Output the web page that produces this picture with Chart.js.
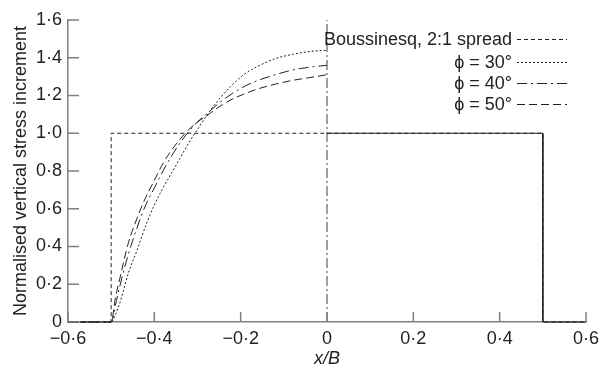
<!DOCTYPE html>
<html>
<head>
<meta charset="utf-8">
<script src="https://cdn.jsdelivr.net/npm/chart.js@4/dist/chart.umd.min.js"></script>
<style>
  html, body { margin: 0; padding: 0; background: #fff; }
  #wrap { width: 606px; height: 370px; }
</style>
</head>
<body>
<div id="wrap"><canvas id="chart"></canvas></div>
<script>
// data
const xTicks = [-0.6, -0.4, -0.2, 0, 0.2, 0.4, 0.6];
const yTicks = [0, 0.2, 0.4, 0.6, 0.8, 1.0, 1.2, 1.4, 1.6];

// Boussinesq, 2:1 spread (rectangle)
const bousX = [-0.6, -0.5, -0.5, 0.5, 0.5, 0.6];
const bousY = [0, 0, 1, 1, 0, 0];

// curved distributions, left half
const phiX  = [-0.6, -0.5, -0.49, -0.48, -0.46, -0.44, -0.42, -0.40, -0.38, -0.36, -0.34, -0.32, -0.30, -0.28, -0.25, -0.22, -0.19, -0.16, -0.12, -0.08, -0.04, 0];
const phi30 = [0, 0, 0.04, 0.10, 0.26, 0.38, 0.51, 0.62, 0.71, 0.79, 0.87, 0.95, 1.02, 1.09, 1.18, 1.255, 1.315, 1.355, 1.395, 1.418, 1.433, 1.44];
const phi40 = [0, 0, 0.09, 0.19, 0.36, 0.50, 0.62, 0.71, 0.80, 0.88, 0.95, 1.01, 1.06, 1.10, 1.16, 1.21, 1.25, 1.28, 1.31, 1.335, 1.35, 1.36];
const phi50 = [0, 0, 0.13, 0.23, 0.42, 0.55, 0.66, 0.75, 0.84, 0.91, 0.97, 1.02, 1.06, 1.09, 1.14, 1.18, 1.21, 1.235, 1.26, 1.28, 1.295, 1.31];

// right half, all methods coincide
const rightX = [0, 0.5, 0.5, 0.6];
const rightY = [1, 1, 0, 0];

// centre line
const centreX = [0, 0];
const centreY = [0, 1.6];

const pts = (xs, ys) => xs.map((x, i) => ({ x: x, y: ys[i] }));

function fmt(v) {
    if (Math.abs(v) < 1e-9) return '0';
    return v.toFixed(1).replace('.', '\u00b7').replace('-', '\u2212');
}

const INK = '#222';
const AXIS = '#808080';
const FONT = '"Liberation Sans", Arial, sans-serif';

// ticks pointing into the plot
const innerTicks = {
    id: 'innerTicks',
    afterDraw(chart) {
        const ctx = chart.ctx;
        const xs = chart.scales.x, ys = chart.scales.y;
        const a = chart.chartArea;
        ctx.save();
        ctx.strokeStyle = AXIS;
        ctx.lineWidth = 1.5;
        ctx.beginPath();
        xTicks.forEach(v => {
            const px = xs.getPixelForValue(v);
            ctx.moveTo(px, a.bottom);
            ctx.lineTo(px, a.bottom - 10);
        });
        yTicks.forEach(v => {
            const py = ys.getPixelForValue(v);
            ctx.moveTo(a.left, py);
            ctx.lineTo(a.left + 11, py);
        });
        ctx.stroke();
        ctx.restore();
    }
};

// legend: text on the left, line sample on the right
const sideLegend = {
    id: 'sideLegend',
    afterDraw(chart) {
        const ctx = chart.ctx;
        const rows = [39, 62, 83, 104];
        const items = chart.data.datasets.filter(d => d.inLegend);
        ctx.save();
        ctx.font = '18px ' + FONT;
        ctx.fillStyle = INK;
        ctx.textAlign = 'right';
        ctx.textBaseline = 'middle';
        items.forEach((d, i) => {
            const y = rows[i];
            ctx.fillText(d.label, 512, y + 1);
            ctx.beginPath();
            ctx.setLineDash(d.borderDash);
            ctx.strokeStyle = INK;
            ctx.lineWidth = 1;
            ctx.moveTo(517, y + 0.5);
            ctx.lineTo(567, y + 0.5);
            ctx.stroke();
        });
        ctx.restore();
    }
};

function line(label, data, dash, extra) {
    return Object.assign({
        label: label,
        data: data,
        showLine: true,
        borderColor: INK,
        borderWidth: 1,
        borderDash: dash,
        pointRadius: 0,
        fill: false,
        tension: 0,
        clip: 6
    }, extra || {});
}

new Chart(document.getElementById('chart'), {
    type: 'scatter',
    data: {
        datasets: [
            line('Boussinesq, 2:1 spread', pts(bousX, bousY), [4, 3], { inLegend: true }),
            line('\u03d5 = 30\u00b0', pts(phiX, phi30), [2, 2], { inLegend: true, cubicInterpolationMode: 'monotone' }),
            line('\u03d5 = 40\u00b0', pts(phiX, phi40), [10, 4, 2, 4], { inLegend: true, cubicInterpolationMode: 'monotone' }),
            line('\u03d5 = 50\u00b0', pts(phiX, phi50), [8, 4], { inLegend: true, cubicInterpolationMode: 'monotone' }),
            line('right', pts(rightX, rightY), []),
            line('centre', pts(centreX, centreY), [10, 3, 2, 3], { borderColor: AXIS, borderWidth: 1.5 })
        ]
    },
    options: {
        responsive: true,
        maintainAspectRatio: false,
        animation: false,
        layout: { padding: { left: 0, top: 20, right: 20, bottom: 0 } },
        plugins: {
            legend: { display: false },
            tooltip: { enabled: false }
        },
        scales: {
            x: {
                type: 'linear',
                min: -0.6,
                max: 0.6,
                afterBuildTicks: s => { s.ticks = xTicks.map(v => ({ value: v })); },
                afterFit: s => { s.height = 48; },
                grid: { display: false, drawTicks: false, tickLength: 0 },
                border: { display: true, color: AXIS, width: 1.5 },
                ticks: {
                    color: INK,
                    font: { family: FONT, size: 18 },
                    padding: 6,
                    maxRotation: 0,
                    callback: v => fmt(v)
                },
                title: {
                    display: true,
                    text: 'x/B',
                    color: INK,
                    font: { family: FONT, size: 18, style: 'italic' },
                    padding: { top: 4, bottom: 0 }
                }
            },
            y: {
                type: 'linear',
                min: 0,
                max: 1.6,
                afterBuildTicks: s => { s.ticks = yTicks.map(v => ({ value: v })); },
                afterFit: s => { s.width = 68; },
                grid: { display: false, drawTicks: false, tickLength: 0 },
                border: { display: true, color: AXIS, width: 1.5 },
                ticks: {
                    color: INK,
                    font: { family: FONT, size: 18 },
                    padding: 6,
                    callback: v => fmt(v)
                },
                title: {
                    display: true,
                    text: 'Normalised vertical stress increment',
                    color: INK,
                    font: { family: FONT, size: 18 },
                    padding: { top: 10, bottom: 0 }
                }
            }
        }
    },
    plugins: [innerTicks, sideLegend]
});
</script>
</body>
</html>
